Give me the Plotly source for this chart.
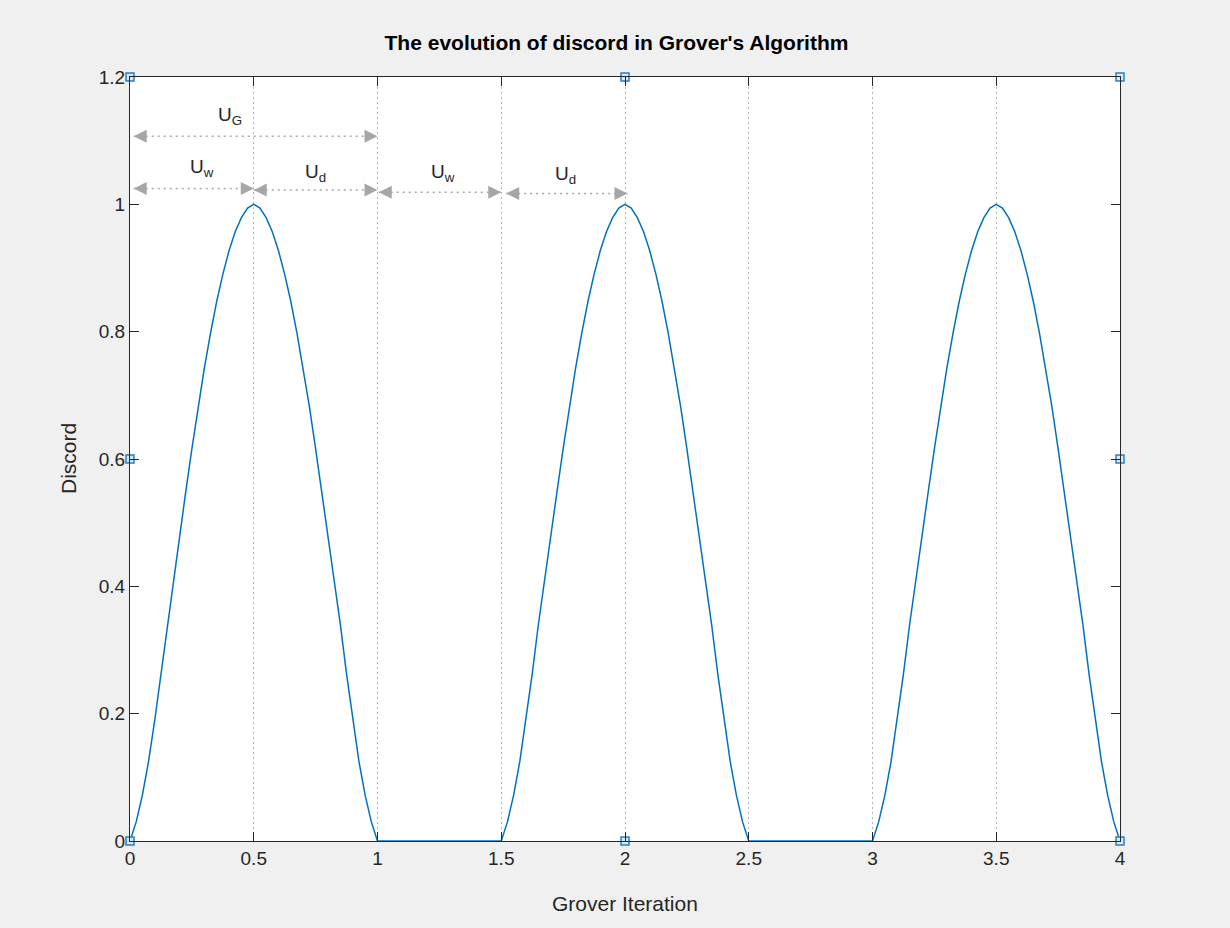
import plotly.graph_objects as go

# ---------------- data ----------------
hump1_x = [0.000, 0.025, 0.050, 0.075, 0.100, 0.125, 0.150, 0.175, 0.200, 0.225,
           0.250, 0.275, 0.300, 0.325, 0.350, 0.375, 0.400, 0.425, 0.450, 0.475,
           0.500, 0.525, 0.550, 0.575, 0.600, 0.625, 0.650, 0.675, 0.700, 0.725,
           0.750, 0.775, 0.800, 0.825, 0.850, 0.875, 0.900, 0.925, 0.950, 0.975, 1.000]
hump1_y = [0.000, 0.030, 0.072, 0.125, 0.190, 0.262, 0.340, 0.412, 0.480, 0.548,
           0.616, 0.682, 0.742, 0.797, 0.847, 0.890, 0.927, 0.957, 0.979, 0.994,
           1.000, 0.994, 0.979, 0.957, 0.927, 0.890, 0.847, 0.797, 0.742, 0.682,
           0.616, 0.548, 0.480, 0.412, 0.340, 0.262, 0.190, 0.125, 0.072, 0.030, 0.000]

hump2_x = [1.500, 1.525, 1.550, 1.575, 1.600, 1.625, 1.650, 1.675, 1.700, 1.725,
           1.750, 1.775, 1.800, 1.825, 1.850, 1.875, 1.900, 1.925, 1.950, 1.975,
           2.000, 2.025, 2.050, 2.075, 2.100, 2.125, 2.150, 2.175, 2.200, 2.225,
           2.250, 2.275, 2.300, 2.325, 2.350, 2.375, 2.400, 2.425, 2.450, 2.475, 2.500]
hump2_y = [0.000, 0.030, 0.072, 0.125, 0.190, 0.262, 0.340, 0.412, 0.480, 0.548,
           0.616, 0.682, 0.742, 0.797, 0.847, 0.890, 0.927, 0.957, 0.979, 0.994,
           1.000, 0.994, 0.979, 0.957, 0.927, 0.890, 0.847, 0.797, 0.742, 0.682,
           0.616, 0.548, 0.480, 0.412, 0.340, 0.262, 0.190, 0.125, 0.072, 0.030, 0.000]

hump3_x = [3.000, 3.025, 3.050, 3.075, 3.100, 3.125, 3.150, 3.175, 3.200, 3.225,
           3.250, 3.275, 3.300, 3.325, 3.350, 3.375, 3.400, 3.425, 3.450, 3.475,
           3.500, 3.525, 3.550, 3.575, 3.600, 3.625, 3.650, 3.675, 3.700, 3.725,
           3.750, 3.775, 3.800, 3.825, 3.850, 3.875, 3.900, 3.925, 3.950, 3.975, 4.000]
hump3_y = [0.000, 0.030, 0.072, 0.125, 0.190, 0.262, 0.340, 0.412, 0.480, 0.548,
           0.616, 0.682, 0.742, 0.797, 0.847, 0.890, 0.927, 0.957, 0.979, 0.994,
           1.000, 0.994, 0.979, 0.957, 0.927, 0.890, 0.847, 0.797, 0.742, 0.682,
           0.616, 0.548, 0.480, 0.412, 0.340, 0.262, 0.190, 0.125, 0.072, 0.030, 0.000]

x_ticks = [0, 0.5, 1, 1.5, 2, 2.5, 3, 3.5, 4]
x_tick_text = ["0", "0.5", "1", "1.5", "2", "2.5", "3", "3.5", "4"]
y_ticks = [0, 0.2, 0.4, 0.6, 0.8, 1.0, 1.2]
y_tick_text = ["0", "0.2", "0.4", "0.6", "0.8", "1", "1.2"]

# double-headed dotted arrows (operator spans)
arrow_start = [0.015, 0.015, 0.500, 1.005, 1.520]
arrow_end = [1.000, 0.500, 1.000, 1.500, 2.010]
arrow_y = [1.107, 1.025, 1.0225, 1.019, 1.017]

label_text = ["U<sub>G</sub>", "U<sub>w</sub>", "U<sub>d</sub>", "U<sub>w</sub>", "U<sub>d</sub>"]
label_x = [0.404, 0.290, 0.750, 1.265, 1.760]
label_y = [1.138, 1.057, 1.049, 1.049, 1.046]

# small square handles drawn on the axes box
handle_x = [0, 0, 0, 2, 2, 4, 4, 4]
handle_y = [0, 0.6, 1.2, 0, 1.2, 0, 0.6, 1.2]

# ---------------- figure ----------------
FONT = "Liberation Sans"
TXT = "#262626"
GRAY = "#a6a6a6"

grover_iter = hump1_x + hump2_x + hump3_x
discord = hump1_y + hump2_y + hump3_y

fig = go.Figure()

fig.add_trace(go.Scatter(
    x=grover_iter, y=discord, mode="lines",
    line=dict(color="#0072bd", width=1.5),
    hoverinfo="skip", showlegend=False, cliponaxis=False))

for i in range(len(arrow_start)):
    fig.add_trace(go.Scatter(
        x=[arrow_start[i], arrow_end[i]], y=[arrow_y[i], arrow_y[i]],
        mode="lines", line=dict(color=GRAY, width=1.5, dash="2px,4px"),
        hoverinfo="skip", showlegend=False))

fig.add_trace(go.Scatter(
    x=arrow_start, y=arrow_y, mode="markers",
    marker=dict(symbol="arrow-left", size=13, color=GRAY, line=dict(width=0)),
    hoverinfo="skip", showlegend=False))
fig.add_trace(go.Scatter(
    x=arrow_end, y=arrow_y, mode="markers",
    marker=dict(symbol="arrow-right", size=13, color=GRAY, line=dict(width=0)),
    hoverinfo="skip", showlegend=False))

fig.add_trace(go.Scatter(
    x=handle_x, y=handle_y, mode="markers",
    marker=dict(symbol="square", size=8, color="#d6eaf9",
                line=dict(color="#2b7fc4", width=1.5)),
    hoverinfo="skip", showlegend=False, cliponaxis=False))

for t, lx, ly in zip(label_text, label_x, label_y):
    fig.add_annotation(x=lx, y=ly, xref="x", yref="y", text=t, showarrow=False,
                       font=dict(family=FONT, size=19, color=TXT),
                       xanchor="center", yanchor="middle")

# axis titles
fig.add_annotation(x=0.5, y=-0.0812, xref="paper", yref="paper",
                   text="Grover Iteration", showarrow=False,
                   font=dict(family=FONT, size=21, color=TXT),
                   xanchor="center", yanchor="middle")
fig.add_annotation(x=-0.0626, y=0.5, xref="paper", yref="paper",
                   text="Discord", showarrow=False, textangle=-90,
                   font=dict(family=FONT, size=21, color=TXT),
                   xanchor="center", yanchor="middle")

fig.update_layout(
    width=1230, height=928, autosize=False,
    margin=dict(l=130, r=110, t=77, b=87),
    paper_bgcolor="#f0f0f0", plot_bgcolor="white",
    title=dict(text="<b>The evolution of discord in Grover's Algorithm</b>",
               x=616.5 / 1230, xref="container", xanchor="center",
               y=1 - 43 / 928, yref="container", yanchor="middle",
               font=dict(family=FONT, size=21, color="black")),
    showlegend=False,
    xaxis=dict(range=[0, 4], tickmode="array", tickvals=x_ticks, ticktext=x_tick_text,
               showline=True, linecolor=TXT, linewidth=1, mirror="ticks",
               ticks="inside", ticklen=9, tickcolor=TXT, tickwidth=1,
               showgrid=True, gridcolor="#b4b4b4", griddash="2px,3px", gridwidth=1,
               zeroline=False, tickfont=dict(family=FONT, size=19, color=TXT)),
    yaxis=dict(range=[0, 1.2], tickmode="array", tickvals=y_ticks, ticktext=y_tick_text,
               showline=True, linecolor=TXT, linewidth=1, mirror="ticks",
               ticks="inside", ticklen=9, tickcolor=TXT, tickwidth=1,
               showgrid=False, zeroline=False,
               tickfont=dict(family=FONT, size=19, color=TXT)),
)

fig.write_html("out.html")
